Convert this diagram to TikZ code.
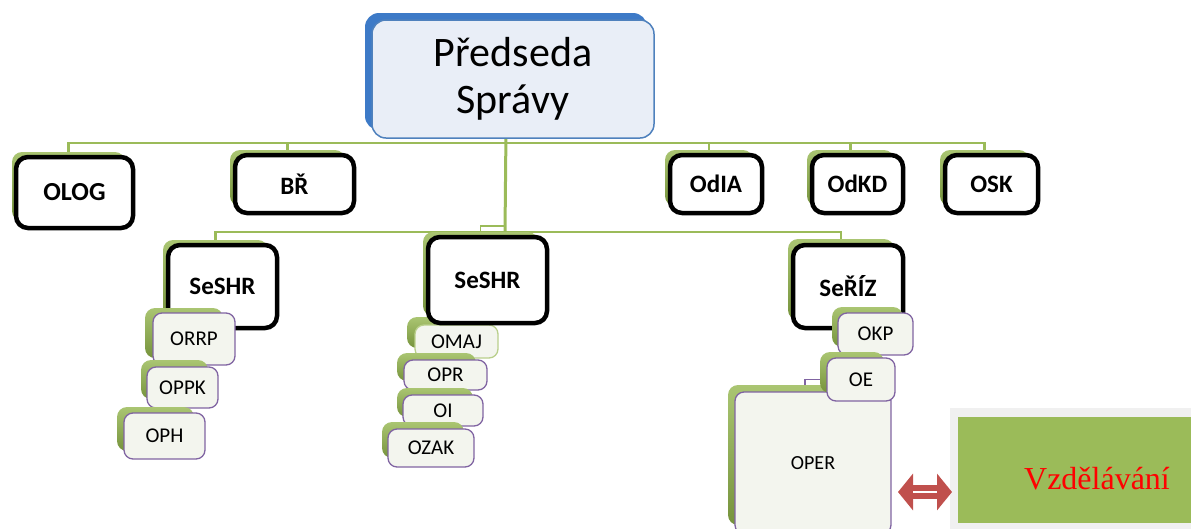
\documentclass[tikz,border=0pt]{standalone}
\usepackage{fontspec}
\setmainfont{Carlito}
\newfontfamily\timesf{Liberation Serif}
\usetikzlibrary{arrows.meta,calc}
\definecolor{ogreen}{HTML}{9BBB59}
\definecolor{ogreend}{HTML}{76933C}
\definecolor{oblue}{HTML}{4F81BD}
\definecolor{obluedk}{HTML}{3D7AC7}
\definecolor{opurple}{HTML}{8064A2}
\definecolor{ored}{HTML}{C0504D}
\definecolor{paleblue}{HTML}{E9EEF7}
\definecolor{palegreen}{HTML}{F3F5EE}
\definecolor{framegray}{HTML}{F0F0F0}
\pgfdeclarelayer{bg}
\pgfsetlayers{bg,main}
\tikzset{
  conn/.style={draw=ogreen, line width=2.5pt},
  backg/.style={rounded corners=10pt, top color=ogreen!85!white, bottom color=ogreend, draw=none, inner sep=0pt, outer sep=0pt},
  backb/.style={rounded corners=14pt, fill=obluedk, draw=none, inner sep=0pt, outer sep=0pt},
  topbox/.style={rounded corners=14pt, fill=paleblue, draw=oblue, line width=1.5pt, font=\fontsize{42}{47}\selectfont, align=center, inner sep=0pt, outer sep=0pt},
  lvlbox/.style={rounded corners=12pt, fill=white, draw=black, line width=4.5pt, font=\bfseries\fontsize{25}{28}\selectfont, inner sep=0pt, outer sep=0pt},
  subbox/.style={rounded corners=9pt, fill=palegreen, draw=opurple, line width=1.3pt, font=\fontsize{21}{24}\selectfont, inner sep=0pt, outer sep=0pt},
  subboxg/.style={subbox, draw=ogreen!70!white},
  dblarrow/.style={draw=ored, line width=14pt, {Triangle[length=15pt,width=36pt]}-{Triangle[length=15pt,width=36pt]}},
}
% #1 name, #2 x1, #3 y1, #4 x2, #5 y2, #6 style, #7 text
\newcommand\rbox[7]{%
  \pgfmathsetmacro\rbw{(#4)-(#2)}%
  \pgfmathsetmacro\rbh{(#5)-(#3)}%
  \node[#6, minimum width=\rbw pt, minimum height=\rbh pt, anchor=north west] (#1) at ({#2},{#3}) {#7};%
}
% #1 name, #2 x1, #3 y1, #4 x2, #5 y2, #6 front style, #7 text, #8 dx, #9 dy
\newcommand\twobox[9]{%
  \rbox{#1-b}{#2-#8}{#3-#9}{#4-#8-4}{#5-#9-2}{backg}{}%
  \rbox{#1}{#2}{#3}{#4}{#5}{#6}{#7}%
}
\begin{document}
\begin{tikzpicture}[x=1pt,y=-1pt]
\useasboundingbox (0,0) rectangle (1191,528);
\clip (0,0) rectangle (1191,528);

% top box
\rbox{pred-b}{365}{13}{647}{130}{backb}{}
\rbox{pred}{372}{20}{654}{138}{topbox}{Předseda\\Správy}

% level 1
\twobox{olog}{16}{157}{133}{228}{lvlbox, font=\bfseries\fontsize{26}{29}\selectfont}{OLOG}{4}{5}
\twobox{br}{235}{155}{354}{213}{lvlbox}{BŘ}{5}{5}
\twobox{odia}{670}{155}{762}{213}{lvlbox}{OdIA}{5}{5}
\twobox{odkd}{812}{155}{903}{213}{lvlbox}{OdKD}{5}{5}
\twobox{osk}{945}{155}{1038}{213}{lvlbox}{OSK}{5}{5}

% middle column (OMAJ lies under SeSHR)
\twobox{omaj}{415}{325}{498}{358}{subboxg}{OMAJ}{8}{8}

% level 2
\twobox{seshrL}{168}{245}{277}{328}{lvlbox}{SeSHR}{5}{5}
\twobox{seshrM}{428}{237}{547}{323}{lvlbox}{SeSHR}{5}{5}
\twobox{seriz}{793}{245}{903}{328}{lvlbox}{SeŘÍZ}{5}{6}

% left column
\twobox{orrp}{153}{313}{235}{365}{subbox}{ORRP}{8}{5}
\twobox{oppk}{147}{367}{218}{408}{subbox}{OPPK}{6}{7}
\twobox{oph}{124}{413}{205}{459}{subbox}{OPH}{7}{6}

% middle column
\twobox{opr}{404}{360}{487}{390}{subbox}{OPR}{7}{7}
\twobox{oi}{403}{395}{483}{426}{subbox}{OI}{6}{7}
\twobox{ozak}{388}{429}{474}{467}{subbox}{OZAK}{6}{7}

% right column
\twobox{oper}{735}{392}{891}{534}{subbox, font=\fontsize{20}{23}\selectfont}{OPER}{7}{7}
\twobox{okp}{838}{313}{913}{355}{subbox}{OKP}{6}{6}
\twobox{oe}{827}{358}{895}{401}{subbox}{OE}{7}{6}

% Vzdelavani
\fill[framegray] (950,408) rectangle (1200,540);
\rbox{vzd}{958}{417}{1200}{523}{fill=ogreen, inner sep=0pt, outer sep=0pt}{}
\node[text=red, font=\timesf\fontsize{32}{36}\selectfont, inner sep=0pt] (vzdt) at (1097,479) {Vzdělávání};

% double arrow
\coordinate (ar1) at (898,492);
\coordinate (ar2) at (952,492);
\draw[dblarrow] (ar1) -- (ar2);
\draw[white, line width=2.5pt] ($(ar1)+(15,0)$) -- ($(ar2)+(-15,0)$);

% connectors
\coordinate (bus1) at (505,143);
\coordinate (bus2) at (505,232);
\coordinate (bus2m) at (505,226);
\begin{pgfonlayer}{bg}
  \draw[conn] (olog-b.north) |- (bus1);
  \draw[conn] (br-b.north) |- (bus1);
  \draw[conn] (odia-b.north) |- (bus1);
  \draw[conn] (odkd-b.north) |- (bus1);
  \draw[conn] (osk-b.north) |- (bus1);
  \draw[conn, line width=3pt] (pred-b.south) -- (bus2);
  \draw[conn] (seshrL-b.north) |- (bus2);
  \draw[conn] (seriz-b.north) |- (bus2);
  \draw[conn, line width=1.8pt] (seshrM-b.north) |- (bus2m);
  \draw[draw=opurple, line width=1.3pt] ($(oper.north west)+(70,0)$) |- (oe.west);
\end{pgfonlayer}
\end{tikzpicture}
\end{document}
